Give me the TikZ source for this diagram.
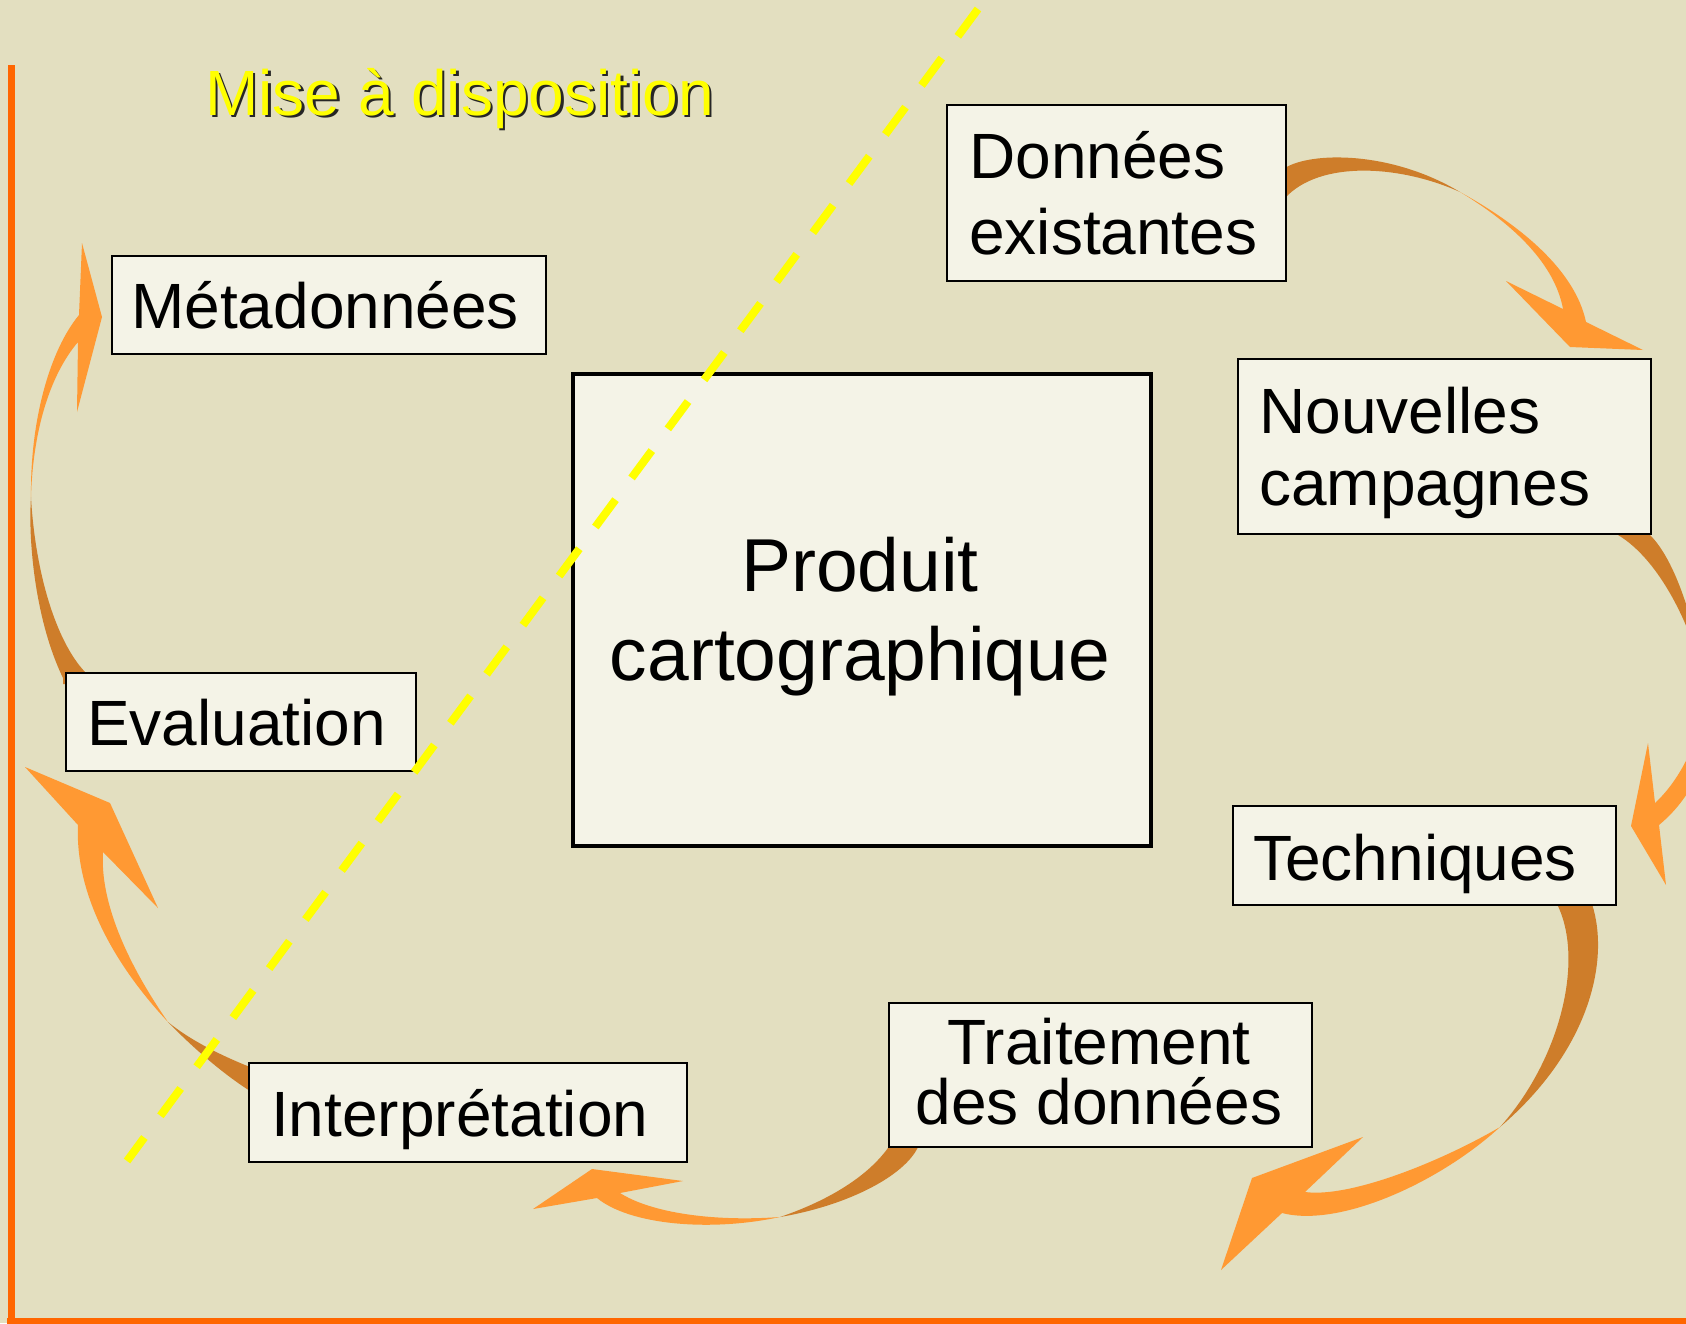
\documentclass[tikz,border=0pt]{standalone}
\usepackage{fontspec}
\setmainfont{Liberation Sans}
\definecolor{bg}{RGB}{227,223,192}
\definecolor{boxfill}{RGB}{244,243,231}
\definecolor{framec}{RGB}{255,102,0}
\definecolor{arrlight}{RGB}{255,153,51}
\definecolor{arrdark}{RGB}{206,125,42}
\definecolor{dashc}{RGB}{255,255,0}
\begin{document}
\begin{tikzpicture}[x=1pt,y=-1pt,
  box/.style={draw=black, line width=2pt, fill=boxfill, inner sep=0pt, anchor=north west},
  lbl/.style={font=\fontsize{64}{76}\selectfont, inner sep=0pt, text=black},
  biglbl/.style={font=\fontsize{75}{88}\selectfont, inner sep=0pt, text=black},
  light/.style={fill=arrlight},
  dark/.style={fill=arrdark},
  divider/.style={draw=dashc, line width=8pt, dash pattern=on 34pt off 27pt}]
\useasboundingbox (0,0) rectangle (1686,1323);
\clip (0,0) rectangle (1686,1323);
\fill[bg] (0,0) rectangle (1686,1323);
% frame
\coordinate (ftop) at (11,65);
\coordinate (fcorner) at (11,1321);
\coordinate (fright) at (1690,1321);
\draw[framec, line width=7pt] (ftop) -- (fcorner);
\draw[framec, line width=7pt] (7,1321) -- (fright);
% arrow 1: Donnees -> Nouvelles
\path[dark] (1278,168) -- (1285,168) .. controls (1310,152) and (1390,150) .. (1460,192)
  .. controls (1400,165) and (1320,160) .. (1285,198) -- (1278,198) -- cycle;
\path[light] (1460,192) .. controls (1520,225) and (1575,270) .. (1586,322)
  -- (1643,350) -- (1570,347) -- (1506,281) -- (1563,309)
  .. controls (1555,265) and (1515,225) .. (1460,192) -- cycle;
% arrow 2: Nouvelles -> Techniques
\path[dark] (1618,526) -- (1618,535) .. controls (1660,560) and (1695,630) .. (1707,695)
  .. controls (1695,620) and (1675,560) .. (1650,535) -- (1650,526) -- cycle;
\path[light] (1707,695) .. controls (1715,750) and (1695,795) .. (1659,825)
  -- (1666,885) -- (1631,826) -- (1648,743) -- (1655,803)
  .. controls (1680,780) and (1700,740) .. (1707,695) -- cycle;
% arrow 3: Techniques -> Traitement
\path[dark] (1557,896) -- (1557,904) .. controls (1585,960) and (1560,1060) .. (1500,1127)
  .. controls (1590,1050) and (1610,960) .. (1592,904) -- (1592,896) -- cycle;
\path[light] (1500,1127) .. controls (1440,1182) and (1340,1228) .. (1282,1213)
  -- (1221,1270) -- (1252,1178) -- (1363,1137) -- (1305,1192)
  .. controls (1350,1198) and (1440,1162) .. (1500,1127) -- cycle;
% arrow 4: Traitement -> Interpretation
\path[dark] (890,1138) -- (890,1145) .. controls (870,1175) and (830,1200) .. (780,1217)
  .. controls (850,1205) and (905,1175) .. (918,1147) -- (918,1138) -- cycle;
\path[light] (780,1217) .. controls (710,1232) and (630,1225) .. (597,1198)
  -- (533,1209) -- (592,1169) -- (683,1181) -- (620,1193)
  .. controls (650,1212) and (710,1222) .. (780,1217) -- cycle;
% arrow 5: Interpretation -> Evaluation
\path[dark] (258,1067) -- (250,1067) .. controls (220,1055) and (190,1040) .. (168,1022)
  .. controls (195,1050) and (225,1075) .. (250,1091) -- (258,1091) -- cycle;
\path[light] (168,1022) .. controls (110,960) and (75,890) .. (78,825)
  -- (25,767) -- (110,803) -- (158,908) -- (103,852)
  .. controls (100,900) and (125,960) .. (168,1022) -- cycle;
% arrow 6: Evaluation -> Metadonnees
\path[dark] (63,684) -- (63,678) .. controls (35,620) and (28,540) .. (31,497)
  .. controls (35,570) and (55,640) .. (85,672) -- (85,684) -- cycle;
\path[light] (31,497) .. controls (30,420) and (50,350) .. (79,315)
  -- (82,243) -- (102,317) -- (77,412) -- (78,342)
  .. controls (50,375) and (33,430) .. (31,497) -- cycle;
% boxes
\node[box, minimum width=339pt, minimum height=176pt] (don) at (946,104) {};
\node[box, minimum width=413pt, minimum height=175pt] (nou) at (1237,358) {};
\node[box, minimum width=383pt, minimum height=99pt] (tec) at (1232,805) {};
\node[box, minimum width=423pt, minimum height=144pt] (tra) at (888,1002) {};
\node[box, minimum width=438pt, minimum height=99pt] (int) at (248,1062) {};
\node[box, minimum width=350pt, minimum height=98pt] (eva) at (65,672) {};
\node[box, minimum width=434pt, minimum height=98pt] (met) at (111,255) {};
\node[box, line width=3.5pt, minimum width=578pt, minimum height=472pt] (pro) at (571,372) {};
% texts
\node[lbl, anchor=base west] (donA) at (969,178) {Données};
\node[lbl, anchor=base west] (donB) at (969,254) {existantes};
\node[lbl, anchor=base west] (nouA) at (1259,433) {Nouvelles};
\node[lbl, anchor=base west] (nouB) at (1259,505) {campagnes};
\node[lbl, anchor=base west] (tecA) at (1253,880) {Techniques};
\node[lbl, anchor=base] (traA) at (1099,1064) {Traitement};
\node[lbl, anchor=base] (traB) at (1099,1124) {des données};
\node[lbl, anchor=base west] (intA) at (271,1136) {Interprétation};
\node[lbl, anchor=base west] (evaA) at (87,745) {Evaluation};
\node[lbl, anchor=base west] (metA) at (131,328) {Métadonnées};
\node[biglbl, anchor=base] (proA) at (860,591) {Produit};
\node[biglbl, anchor=base] (proB) at (860,680) {cartographique};
% divider
\coordinate (dtop) at (978,9);
\coordinate (dbot) at (127,1161);
\draw[divider] (dtop) -- (dbot);
% title
\node[lbl, anchor=base west, text=black!85] (titleS) at (207.5,117.5) {Mise à disposition};
\node[lbl, anchor=base west, text=dashc] (title) at (205,115) {Mise à disposition};
\end{tikzpicture}
\end{document}
